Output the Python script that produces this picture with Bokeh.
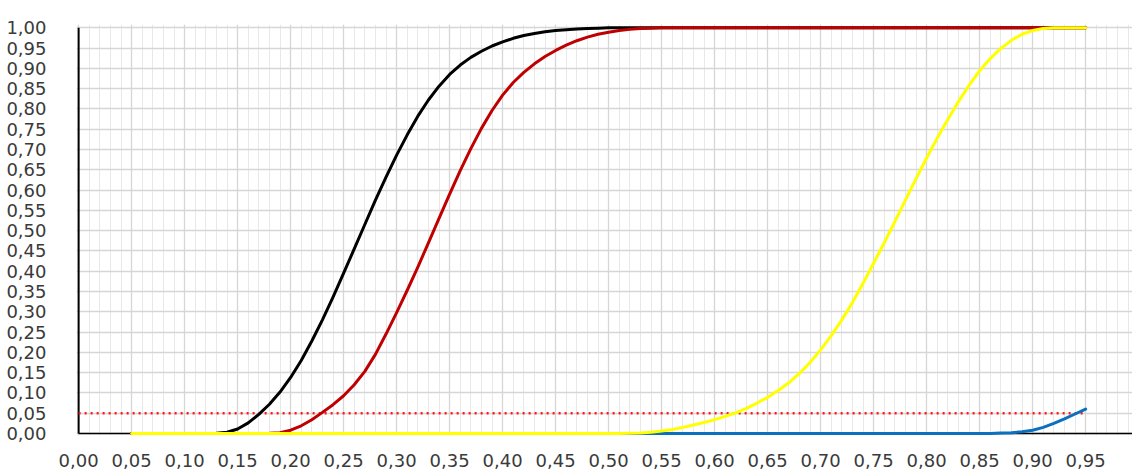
from bokeh.plotting import figure
from bokeh.models import Range1d, FixedTicker
from bokeh.embed import file_html
from bokeh.resources import INLINE

# ---- data ----
x_values = [0.05, 0.06, 0.07, 0.08, 0.09, 0.10, 0.11, 0.12, 0.13, 0.14,
            0.15, 0.16, 0.17, 0.18, 0.19, 0.20, 0.21, 0.22, 0.23, 0.24,
            0.25, 0.26, 0.27, 0.28, 0.29, 0.30, 0.31, 0.32, 0.33, 0.34,
            0.35, 0.36, 0.37, 0.38, 0.39, 0.40, 0.41, 0.42, 0.43, 0.44,
            0.45, 0.46, 0.47, 0.48, 0.49, 0.50, 0.51, 0.52, 0.53, 0.54,
            0.55, 0.56, 0.57, 0.58, 0.59, 0.60, 0.61, 0.62, 0.63, 0.64,
            0.65, 0.66, 0.67, 0.68, 0.69, 0.70, 0.71, 0.72, 0.73, 0.74,
            0.75, 0.76, 0.77, 0.78, 0.79, 0.80, 0.81, 0.82, 0.83, 0.84,
            0.85, 0.86, 0.87, 0.88, 0.89, 0.90, 0.91, 0.92, 0.93, 0.94,
            0.95]

black_series = [0, 0, 0, 0, 0, 0, 0, 0, 0.0005, 0.003,
                0.011, 0.026, 0.047, 0.072, 0.102, 0.138, 0.18, 0.228, 0.28, 0.336,
                0.395, 0.455, 0.515, 0.575, 0.632, 0.686, 0.736, 0.782, 0.822, 0.856,
                0.885, 0.908, 0.927, 0.942, 0.955, 0.965, 0.974, 0.981, 0.986, 0.99,
                0.993, 0.995, 0.997, 0.998, 0.999, 1, 1, 1, 1, 1,
                1, 1, 1, 1, 1, 1, 1, 1, 1, 1,
                1, 1, 1, 1, 1, 1, 1, 1, 1, 1,
                1, 1, 1, 1, 1, 1, 1, 1, 1, 1,
                1, 1, 1, 1, 1, 1, 1, 1, 1, 1,
                1]

red_series = [0, 0, 0, 0, 0, 0, 0, 0, 0, 0,
              0, 0, 0, 0.0005, 0.002, 0.008, 0.019, 0.034, 0.052, 0.071,
              0.093, 0.12, 0.153, 0.195, 0.245, 0.298, 0.353, 0.41, 0.47, 0.53,
              0.59, 0.648, 0.702, 0.752, 0.796, 0.834, 0.865, 0.89, 0.911, 0.929,
              0.944, 0.957, 0.968, 0.977, 0.984, 0.989, 0.993, 0.996, 0.998, 0.999,
              1, 1, 1, 1, 1, 1, 1, 1, 1, 1,
              1, 1, 1, 1, 1, 1, 1, 1, 1, 1,
              1, 1, 1, 1, 1, 1, 1, 1, 1, 1,
              1, 1, 1, 1, 1, 1, 1, 1, 1, 1,
              1]

yellow_series = [0, 0, 0, 0, 0, 0, 0, 0, 0, 0,
                 0, 0, 0, 0, 0, 0, 0, 0, 0, 0,
                 0, 0, 0, 0, 0, 0, 0, 0, 0, 0,
                 0, 0, 0, 0, 0, 0, 0, 0, 0, 0,
                 0, 0, 0, 0, 0, 0, 0, 0.0005, 0.001, 0.003,
                 0.006, 0.01, 0.015, 0.021, 0.027, 0.034, 0.042, 0.051, 0.062, 0.075,
                 0.089, 0.106, 0.125, 0.148, 0.175, 0.206, 0.241, 0.28, 0.323, 0.37,
                 0.42, 0.47, 0.522, 0.575, 0.628, 0.679, 0.728, 0.774, 0.818, 0.858,
                 0.894, 0.924, 0.949, 0.969, 0.984, 0.993, 0.998, 1, 1, 1,
                 1]

blue_series = [0, 0, 0, 0, 0, 0, 0, 0, 0, 0,
               0, 0, 0, 0, 0, 0, 0, 0, 0, 0,
               0, 0, 0, 0, 0, 0, 0, 0, 0, 0,
               0, 0, 0, 0, 0, 0, 0, 0, 0, 0,
               0, 0, 0, 0, 0, 0, 0, 0, 0, 0,
               0, 0, 0, 0, 0, 0, 0, 0, 0, 0,
               0, 0, 0, 0, 0, 0, 0, 0, 0, 0,
               0, 0, 0, 0, 0, 0, 0, 0, 0, 0,
               0, 0, 0.001, 0.002, 0.004, 0.008, 0.015, 0.025, 0.036, 0.048,
               0.06]

threshold_x = [0.00, 0.95]
threshold_y = [0.05, 0.05]

x_ticks = [0.00, 0.05, 0.10, 0.15, 0.20, 0.25, 0.30, 0.35, 0.40, 0.45,
           0.50, 0.55, 0.60, 0.65, 0.70, 0.75, 0.80, 0.85, 0.90, 0.95]
x_tick_labels = ["0,00", "0,05", "0,10", "0,15", "0,20", "0,25", "0,30", "0,35", "0,40", "0,45",
                 "0,50", "0,55", "0,60", "0,65", "0,70", "0,75", "0,80", "0,85", "0,90", "0,95"]
x_minor_ticks = [i / 100 for i in range(0, 100)]

y_ticks = [0.00, 0.05, 0.10, 0.15, 0.20, 0.25, 0.30, 0.35, 0.40, 0.45, 0.50,
           0.55, 0.60, 0.65, 0.70, 0.75, 0.80, 0.85, 0.90, 0.95, 1.00]
y_tick_labels = ["0,00", "0,05", "0,10", "0,15", "0,20", "0,25", "0,30", "0,35", "0,40", "0,45", "0,50",
                 "0,55", "0,60", "0,65", "0,70", "0,75", "0,80", "0,85", "0,90", "0,95", "1,00"]

# ---- figure ----
p = figure(frame_width=1056, frame_height=411,
           min_border_left=76, min_border_right=0, min_border_top=24, min_border_bottom=39,
           output_backend="svg", toolbar_location=None,
           x_range=Range1d(-0.002, 0.9942), y_range=Range1d(-0.005, 1.008))
p.outline_line_color = None
p.background_fill_color = "white"
p.border_fill_color = "white"

font = "DejaVu Sans"
text_color = "#3a3a3a"

p.xaxis.ticker = FixedTicker(ticks=x_ticks, minor_ticks=x_minor_ticks)
p.yaxis.ticker = FixedTicker(ticks=y_ticks)
p.xaxis.major_label_overrides = {t: l for t, l in zip(x_ticks, x_tick_labels)}
p.yaxis.major_label_overrides = {t: l for t, l in zip(y_ticks, y_tick_labels)}

for ax in (p.xaxis, p.yaxis):
    ax.axis_line_color = None
    ax.major_tick_line_color = None
    ax.minor_tick_line_color = None
    ax.major_label_text_font = font
    ax.major_label_text_font_size = "18px"
    ax.major_label_text_color = text_color
p.xaxis.major_label_standoff = 12
p.yaxis.major_label_standoff = 24

p.xgrid.grid_line_color = "#d6d6d6"
p.xgrid.grid_line_width = 1.3
p.xgrid.minor_grid_line_color = "#e8e8e8"
p.xgrid.minor_grid_line_width = 1
p.ygrid.grid_line_color = "#d6d6d6"
p.ygrid.grid_line_width = 1.3

# axis lines
p.line([0, 0], [0, 1], line_color="black", line_width=2)
p.line([0, 0.9942], [0, 0], line_color="black", line_width=1.5)

# threshold
p.line(threshold_x, threshold_y, line_color="#ff1a1a", line_width=2.5, line_dash="2 4")

# curves
common = dict(line_width=3, line_join="round", line_cap="round")
p.line(x_values, blue_series, line_color="#0a70c0", **common)
p.line(x_values, black_series, line_color="black", **common)
p.line(x_values, red_series, line_color="#c00000", **common)
p.line(x_values, yellow_series, line_color="#ffff00", **common)

open("out.html", "w").write(file_html(p, INLINE))
